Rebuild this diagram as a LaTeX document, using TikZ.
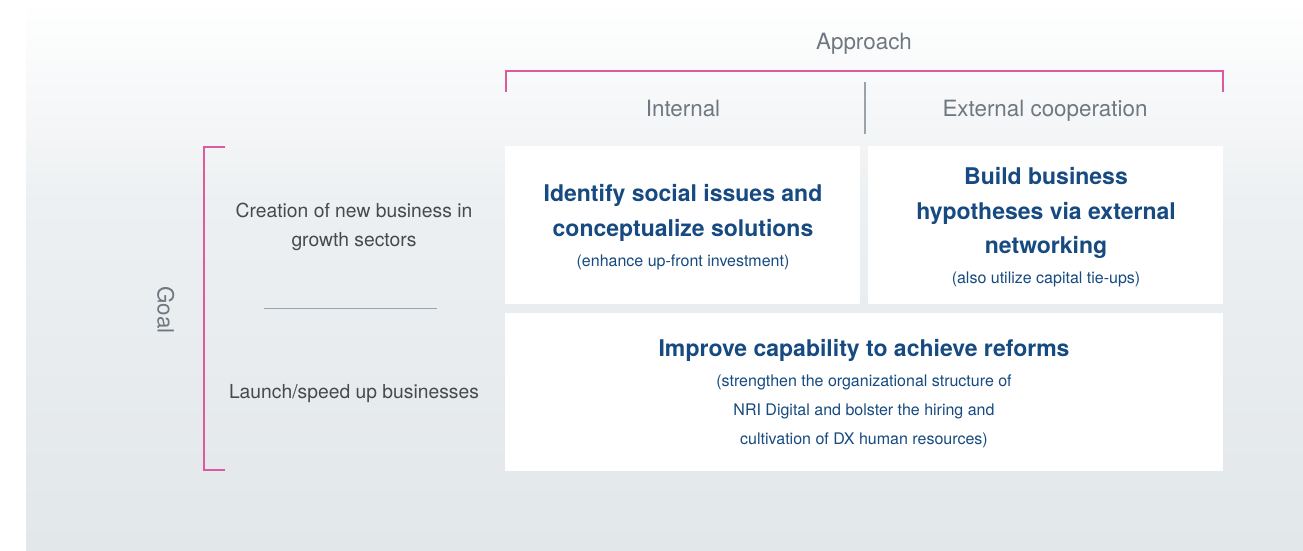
\documentclass[tikz,border=0pt]{standalone}
\usepackage{fontspec}
\setmainfont{TeX Gyre Heros}
\definecolor{pinkline}{HTML}{DD5A9F}
\definecolor{headblue}{HTML}{164A80}
\definecolor{labgray}{HTML}{6F7881}
\definecolor{darkgray}{HTML}{474A4D}
\definecolor{divgray}{HTML}{9AA3AA}
\definecolor{bgbottom}{HTML}{E2E7EA}
\definecolor{bgmid}{HTML}{EDF0F2}
\begin{document}
\begin{tikzpicture}[x=1pt,y=-1pt,
  box/.style={fill=white, draw=none, inner sep=0pt},
  headlab/.style={text=labgray, font=\fontsize{22.4}{26}\selectfont, inner sep=0pt, text height=0.75em, text depth=0.25em},
  goallab/.style={text=darkgray, font=\fontsize{19.3}{29}\selectfont, inner sep=0pt, align=center},
  heading/.style={text=headblue, font=\bfseries\fontsize{23}{35}\selectfont, inner sep=0pt, text height=0.75em, text depth=0.25em},
  subtext/.style={text=headblue, font=\fontsize{16}{18}\selectfont, inner sep=0pt, text height=0.75em, text depth=0.25em},
  bracket/.style={draw=pinkline, line width=1.6pt},
  divider/.style={draw=divgray, line width=1.2pt}]
\useasboundingbox (0,0) rectangle (1303,550);
\fill[white] (0,0) rectangle (1303,550);
\shade[top color=white, bottom color=bgmid] (26,0) rectangle (1303,200);
\shade[top color=bgmid, bottom color=bgbottom] (26,200) rectangle (1303,550);
% boxes
\node[box, minimum width=355pt, minimum height=158pt] (b1) at (682.5,225) {};
\node[box, minimum width=355pt, minimum height=158pt] (b2) at (1045.5,225) {};
\node[box, minimum width=718pt, minimum height=158pt] (b3) at (864,392) {};
% header labels
\node[headlab] (approach) at (864,47) {Approach};
\node[headlab] (internal) at (683,114) {Internal};
\node[headlab] (external) at (1045,114) {External cooperation};
\coordinate (dtop) at (865,82);
\coordinate (dbot) at (865,134);
\draw[divider] (dtop) -- (dbot);
% approach bracket
\coordinate (al) at (506,71);
\coordinate (ar) at (1223,71);
\draw[bracket] ([yshift=-21pt]al) -- (al) -- (ar) -- ([yshift=-21pt]ar);
% goal bracket
\coordinate (gt) at (204,147);
\coordinate (gb) at (204,470);
\draw[bracket] ([xshift=21pt]gt) -- (gt) -- (gb) -- ([xshift=21pt]gb);
\node[headlab, rotate=-90] (goal) at (160,310) {Goal};
% goal labels
\node[goallab] (creation) at (354,227) {Creation of new business in\\growth sectors};
\coordinate (ll) at (264,308);
\coordinate (lr) at (437,308);
\draw[divider, line width=0.9pt] (ll) -- (lr);
\node[goallab] (launch) at (354,394) {Launch/speed up businesses};
% box 1 text
\node[heading] (h1a) at (683,199) {Identify social issues and};
\node[heading] (h1b) at (683,234) {conceptualize solutions};
\node[subtext] (s1) at (683,264) {(enhance up-front investment)};
% box 2 text
\node[heading] (h2a) at (1046,182) {Build business};
\node[heading] (h2b) at (1046,217) {hypotheses via external};
\node[heading] (h2c) at (1046,251) {networking};
\node[subtext] (s2) at (1046,281) {(also utilize capital tie-ups)};
% box 3 text
\node[heading] (h3) at (864,354) {Improve capability to achieve reforms};
\node[subtext] (s3a) at (864,384) {(strengthen the organizational structure of};
\node[subtext] (s3b) at (864,413) {NRI Digital and bolster the hiring and};
\node[subtext] (s3c) at (864,442) {cultivation of DX human resources)};
\end{tikzpicture}
\end{document}
